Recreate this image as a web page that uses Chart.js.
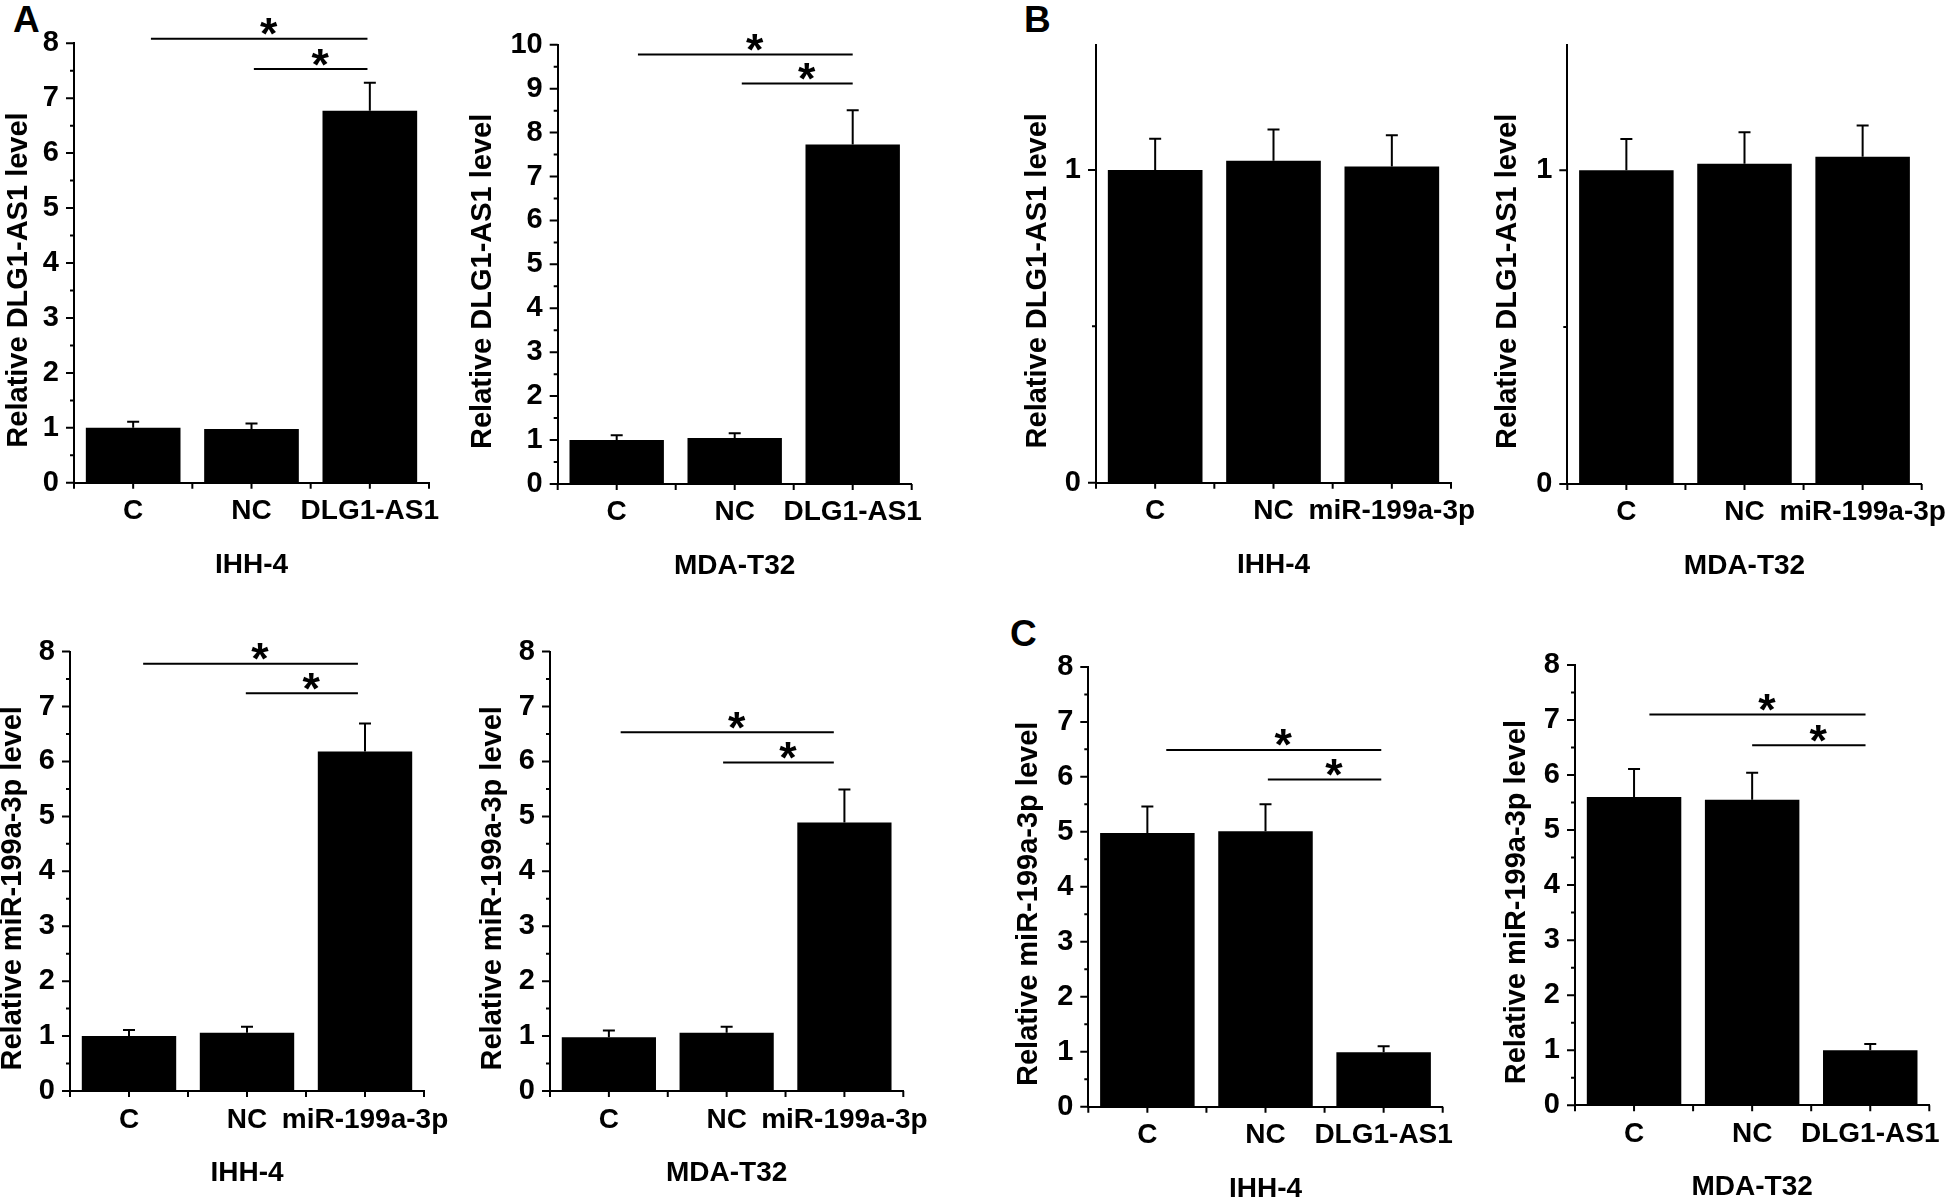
<!DOCTYPE html>
<html>
<head>
<meta charset="utf-8">
<script src="https://cdn.jsdelivr.net/npm/chart.js@4/dist/chart.umd.min.js"></script>
<style>
  html, body { margin: 0; padding: 0; background: #fff; }
  #fig { position: relative; width: 1946px; height: 1199px; overflow: hidden; background: #fff; }
  #fig canvas { position: absolute; }
  .tag { position: absolute; font: bold 37px/37px 'Liberation Sans', Arial, sans-serif; color: #000; }
</style>
</head>
<body>
<div id="fig">
  <div class="tag" style="left:13px;top:1px">A</div>
  <div class="tag" style="left:1024px;top:1px">B</div>
  <div class="tag" style="left:1010px;top:615px">C</div>
</div>
<script>
// ---------- data ----------
const groupsAS1 = ['C', 'NC', 'DLG1-AS1'];
const groupsMiR = ['C', 'NC', 'miR-199a-3p'];
const cellLines = ['IHH-4', 'MDA-T32'];
const titleAS1 = 'Relative DLG1-AS1 level';
const titleMiR = 'Relative miR-199a-3p level';

// A, top row: DLG1-AS1 level after DLG1-AS1 overexpression
const as1IHH = [1.0, 0.98, 6.77];
const as1IHHsd = [0.11, 0.10, 0.51];
const as1MDA = [1.0, 1.045, 7.73];
const as1MDAsd = [0.11, 0.11, 0.78];

// B: DLG1-AS1 level after miR-199a-3p overexpression
const as1MiRIHH = [1.0, 1.029, 1.011];
const as1MiRIHHsd = [0.10, 0.10, 0.10];
const as1MiRMDA = [1.0, 1.021, 1.043];
const as1MiRMDAsd = [0.10, 0.10, 0.10];

// A, bottom row: miR-199a-3p level after miR-199a-3p overexpression
const mirIHH = [1.0, 1.06, 6.18];
const mirIHHsd = [0.11, 0.11, 0.51];
const mirMDA = [0.98, 1.06, 4.89];
const mirMDAsd = [0.12, 0.11, 0.60];

// C: miR-199a-3p level after DLG1-AS1 overexpression
const mirAS1IHH = [4.98, 5.01, 0.99];
const mirAS1IHHsd = [0.48, 0.49, 0.11];
const mirAS1MDA = [5.60, 5.55, 1.0];
const mirAS1MDAsd = [0.51, 0.49, 0.11];

// significance brackets: [from group, to group, level]
const sigA1 = [[0.15, 1.98, 8.08], [1.02, 1.98, 7.53]];
const sigA2 = [[0.18, 2.0, 9.78], [1.06, 2.0, 9.12]];
const sigA3 = [[0.12, 1.94, 7.78], [0.99, 1.94, 7.24]];
const sigA4 = [[0.10, 1.91, 6.53], [0.97, 1.91, 5.98]];
const sigC1 = [[0.16, 1.98, 6.49], [1.02, 1.98, 5.95]];
const sigC2 = [[0.13, 1.96, 7.10], [1.0, 1.96, 6.54]];

// ---------- layout ----------
const FONT = "'Liberation Sans', Arial, sans-serif";
Chart.defaults.font.family = FONT;
Chart.defaults.font.weight = 'bold';
Chart.defaults.color = '#000';

// area = plot rectangle [left, top, right, bottom] on the page
const panels = [
  { cats: groupsAS1, cell: cellLines[0], yTitle: titleAS1, vals: as1IHH, sd: as1IHHsd, yMax: 8, sig: sigA1, area: [74, 43.2, 429, 482.8], titleDx: 55 },
  { cats: groupsAS1, cell: cellLines[1], yTitle: titleAS1, vals: as1MDA, sd: as1MDAsd, yMax: 10, sig: sigA2, area: [557.7, 44.8, 911.7, 483.9], titleDx: 75 },
  { cats: groupsMiR, cell: cellLines[0], yTitle: titleAS1, vals: as1MiRIHH, sd: as1MiRIHHsd, yMax: 1.4, sig: [], area: [1096, 44.8, 1451, 482.8], titleDx: 58.5 },
  { cats: groupsMiR, cell: cellLines[1], yTitle: titleAS1, vals: as1MiRMDA, sd: as1MiRMDAsd, yMax: 1.4, sig: [], area: [1567.3, 44.8, 1921.7, 483.9], titleDx: 59 },
  { cats: groupsMiR, cell: cellLines[0], yTitle: titleMiR, vals: mirIHH, sd: mirIHHsd, yMax: 8, sig: sigA3, area: [70, 651.6, 424, 1091], titleDx: 57 },
  { cats: groupsMiR, cell: cellLines[1], yTitle: titleMiR, vals: mirMDA, sd: mirMDAsd, yMax: 8, sig: sigA4, area: [550, 651.6, 903.3, 1091], titleDx: 57.5 },
  { cats: groupsAS1, cell: cellLines[0], yTitle: titleMiR, vals: mirAS1IHH, sd: mirAS1IHHsd, yMax: 8, sig: sigC1, area: [1088.3, 666.9, 1442.7, 1106.7], titleDx: 59 },
  { cats: groupsAS1, cell: cellLines[1], yTitle: titleMiR, vals: mirAS1MDA, sd: mirAS1MDAsd, yMax: 8, sig: sigC2, area: [1575, 665, 1929.3, 1105.2], titleDx: 58 },
];

const panelOf = new Map();

// asterisk size: about 17px tall
function starFont(ctx) {
  ctx.font = 'bold 100px ' + FONT;
  const m = ctx.measureText('*');
  const h = m.actualBoundingBoxAscent + m.actualBoundingBoxDescent;
  return 'bold ' + (17 * 100 / h).toFixed(1) + 'px ' + FONT;
}

// ticks, error bars, brackets, stars and the y title
const decor = {
  id: 'decor',
  afterDatasetsDraw(chart) {
    const p = panelOf.get(chart.canvas);
    if (!p) return;
    const { ctx, chartArea: a, scales: { x, y } } = chart;
    ctx.save();
    ctx.strokeStyle = '#000';
    ctx.fillStyle = '#000';
    ctx.lineWidth = 2;
    ctx.beginPath();
    y.ticks.forEach(t => {
      const py = y.getPixelForValue(t.value);
      const len = Number.isInteger(t.value) ? 8 : 4;
      ctx.moveTo(a.left - len, py);
      ctx.lineTo(a.left, py);
    });
    for (let v = -0.5; v <= p.cats.length - 0.5; v += 0.5) {
      const px = x.getPixelForValue(v);
      ctx.moveTo(px, a.bottom);
      ctx.lineTo(px, a.bottom + 6);
    }
    chart.getDatasetMeta(0).data.forEach((bar, i) => {
      const top = y.getPixelForValue(p.vals[i] + p.sd[i]);
      ctx.moveTo(bar.x, bar.y);
      ctx.lineTo(bar.x, top);
      ctx.moveTo(bar.x - 6, top);
      ctx.lineTo(bar.x + 6, top);
    });
    p.sig.forEach(([from, to, lvl]) => {
      const py = y.getPixelForValue(lvl);
      ctx.moveTo(x.getPixelForValue(from), py);
      ctx.lineTo(x.getPixelForValue(to), py);
    });
    ctx.stroke();

    ctx.font = starFont(ctx);
    ctx.textAlign = 'center';
    ctx.textBaseline = 'alphabetic';
    const m = ctx.measureText('*');
    p.sig.forEach(([from, to, lvl]) => {
      const cx = x.getPixelForValue((from + to) / 2 + 0.08);
      const cy = y.getPixelForValue(lvl) - 12;
      ctx.fillText('*', cx, cy + (m.actualBoundingBoxAscent - m.actualBoundingBoxDescent) / 2);
    });

    ctx.font = 'bold 29px ' + FONT;
    ctx.textBaseline = 'middle';
    ctx.translate(a.left - p.titleDx, (a.top + a.bottom) / 2 + 17);
    ctx.rotate(-Math.PI / 2);
    ctx.fillText(p.yTitle, 0, 0);
    ctx.restore();
  }
};

const fig = document.getElementById('fig');

function makeChart(p) {
  const [L, T, R, B] = p.area;
  const mL = 110, mT = 60, mR = 70, mB = 125;
  const x0 = Math.round(L - mL), y0 = Math.round(T - mT);
  const w = Math.round(R - L + mL + mR), h = Math.round(B - T + mT + mB);
  const cv = document.createElement('canvas');
  cv.width = w;
  cv.height = h;
  cv.style.left = x0 + 'px';
  cv.style.top = y0 + 'px';
  cv.style.width = w + 'px';
  cv.style.height = h + 'px';
  fig.appendChild(cv);
  panelOf.set(cv, p);

  const pad = { left: 50, top: mT, right: 40, bottom: 20 };
  const chart = new Chart(cv, {
    type: 'bar',
    data: {
      labels: p.cats,
      datasets: [{ data: p.vals, backgroundColor: '#000', borderWidth: 0, barPercentage: 0.8, categoryPercentage: 1 }]
    },
    options: {
      responsive: false,
      animation: false,
      layout: { padding: { ...pad } },
      plugins: { legend: { display: false }, tooltip: { enabled: false } },
      scales: {
        x: {
          offset: true,
          grid: { display: true, drawOnChartArea: false, drawTicks: true, tickLength: 6, color: 'rgba(0,0,0,0)', offset: true },
          border: { display: true, color: '#000', width: 2 },
          ticks: { color: '#000', font: { size: 28, weight: 'bold' }, padding: 6, maxRotation: 0, minRotation: 0, autoSkip: false },
          title: { display: true, text: p.cell, color: '#000', font: { size: 28, weight: 'bold' }, padding: { top: 14, bottom: 4 } }
        },
        y: {
          min: 0,
          max: p.yMax,
          grid: { display: true, drawOnChartArea: false, drawTicks: true, tickLength: 8, color: 'rgba(0,0,0,0)' },
          border: { display: true, color: '#000', width: 2 },
          ticks: {
            stepSize: 0.5, includeBounds: false, autoSkip: false, color: '#000',
            font: { size: 29, weight: 'bold' }, padding: 7,
            callback: v => Number.isInteger(v) ? v : ''
          }
        }
      }
    },
    plugins: [decor]
  });

  // nudge padding until the plot area sits where the figure has it
  for (let k = 0; k < 4; k++) {
    const a = chart.chartArea;
    pad.left += (L - x0) - a.left;
    pad.top += (T - y0) - a.top;
    pad.right += a.right - (R - x0);
    pad.bottom += a.bottom - (B - y0);
    chart.options.layout.padding = { ...pad };
    chart.update();
  }
  return chart;
}

panels.forEach(makeChart);
</script>
</body>
</html>
